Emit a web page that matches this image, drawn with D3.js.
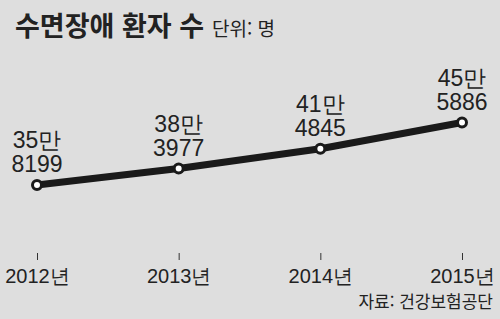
<!DOCTYPE html>
<html lang="ko">
<head>
<meta charset="UTF-8">
<script src="https://d3js.org/d3.v7.min.js"></script>
<style>
  body { margin: 0; background: #dedede; }
  svg { display: block; }
</style>
</head>
<body>
<script>
// data
const years = ['2012년', '2013년', '2014년', '2015년'];
const patients = [358199, 383977, 414845, 455886];
const labelTop = ['35만', '38만', '41만', '45만'];
const labelBottom = ['8199', '3977', '4845', '5886'];

const width = 500, height = 319;
const narrow = '"Liberation Sans Narrow", "Arial Narrow", "Liberation Sans", sans-serif';
const kr = '"Noto Sans CJK KR", sans-serif';

const svg = d3.select('body').append('svg')
    .attr('width', width)
    .attr('height', height);

svg.append('rect')
    .attr('width', width)
    .attr('height', height)
    .attr('fill', '#dedede');

// title
const title = svg.append('text')
    .attr('x', 15)
    .attr('y', 36)
    .attr('fill', '#222');
title.append('tspan')
    .attr('font-family', kr)
    .attr('font-weight', 'bold')
    .attr('font-size', 27)
    .text('수면장애 환자 수');
title.append('tspan')
    .attr('dx', 8)
    .attr('font-family', kr)
    .attr('font-size', 19)
    .text('단위: 명');

const x = d3.scalePoint()
    .domain(years)
    .range([37, 462]);

const y = d3.scaleLinear()
    .domain([358199, 455886])
    .range([185, 122.5]);

// x axis ticks
const axis = svg.append('g')
    .attr('transform', 'translate(0,253)')
    .call(d3.axisBottom(x).tickSize(7).tickPadding(4));
axis.select('.domain').remove();
axis.selectAll('.tick line').attr('stroke', '#333').attr('stroke-width', 1);
axis.selectAll('.tick text')
    .attr('fill', '#222')
    .attr('font-family', narrow)
    .attr('font-size', 20)
    .attr('dy', '0.95em');

// line
const pts = years.map((yr, i) => ({ yr, v: patients[i], t: labelTop[i], b: labelBottom[i] }));

svg.append('path')
    .datum(pts)
    .attr('fill', 'none')
    .attr('stroke', '#1a1a1a')
    .attr('stroke-width', 7)
    .attr('d', d3.line().x(d => x(d.yr)).y(d => y(d.v)));

svg.selectAll('circle')
    .data(pts)
    .enter()
    .append('circle')
    .attr('cx', d => x(d.yr))
    .attr('cy', d => y(d.v))
    .attr('r', 4.5)
    .attr('fill', '#fff')
    .attr('stroke', '#1a1a1a')
    .attr('stroke-width', 3);

// value labels
const lbl = svg.selectAll('.lbl')
    .data(pts)
    .enter()
    .append('text')
    .attr('class', 'lbl')
    .attr('text-anchor', 'middle')
    .attr('fill', '#222')
    .attr('font-family', narrow)
    .attr('font-size', 23);
lbl.append('tspan')
    .attr('x', d => x(d.yr))
    .attr('y', d => y(d.v) - 37)
    .text(d => d.t);
lbl.append('tspan')
    .attr('x', d => x(d.yr))
    .attr('y', d => y(d.v) - 13)
    .text(d => d.b);

// source
svg.append('text')
    .attr('x', 493)
    .attr('y', 308)
    .attr('text-anchor', 'end')
    .attr('fill', '#222')
    .attr('font-family', kr)
    .attr('font-size', 17)
    .text('자료: 건강보험공단');
</script>
</body>
</html>
